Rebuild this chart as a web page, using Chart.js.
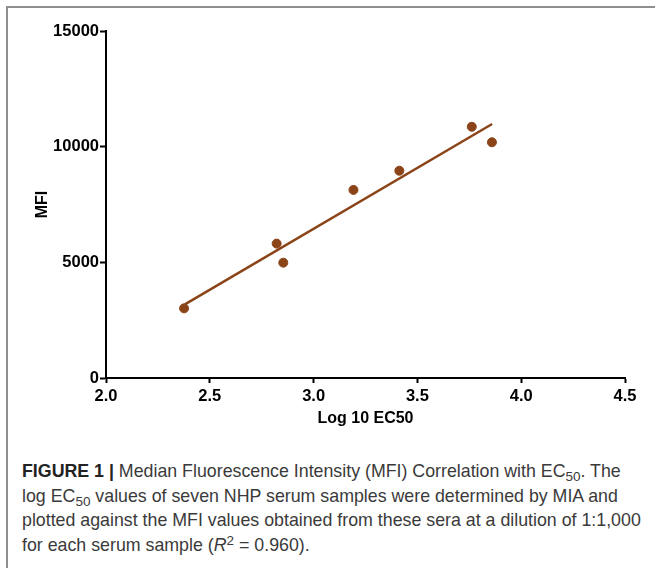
<!DOCTYPE html>
<html>
<head>
<meta charset="utf-8">
<script src="https://cdn.jsdelivr.net/npm/chart.js@4/dist/chart.umd.min.js"></script>
<style>
  html, body { margin: 0; padding: 0; background: #fff; }
  body { width: 655px; height: 568px; position: relative; overflow: hidden; }
  #frame { position: absolute; left: 6px; top: 6px; width: 660px; height: 580px;
           border-top: 2px solid #8e8e8e; border-left: 2px solid #8e8e8e; }
  #wrap { position: absolute; left: 0; top: 0; width: 655px; height: 440px; }
  #caption { position: absolute; left: 22px; top: 459px; width: 640px; white-space: nowrap;
             font-family: "Liberation Sans", Arial, sans-serif; font-size: 17.8px;
             line-height: 24.5px; color: #3a3a3a; }
  #caption b { color: #222; }
  sub { font-size: 13.5px; line-height: 0; vertical-align: -4px; }
  sup { font-size: 13.5px; line-height: 0; vertical-align: 6px; }
</style>
</head>
<body>
<div id="frame"></div>
<div id="wrap"><canvas id="c"></canvas></div>
<div id="caption"><b>FIGURE 1 |</b> Median Fluorescence Intensity (MFI) Correlation with EC<sub>50</sub>. The<br>log EC<sub>50</sub> values of seven NHP serum samples were determined by MIA and<br>plotted against the MFI values obtained from these sera at a dilution of 1:1,000<br>for each serum sample (<i>R</i><sup>2</sup> = 0.960).</div>
<script>
const logEC50 = [2.376, 2.822, 2.854, 3.192, 3.413, 3.762, 3.859];
const mfi = [3010, 5810, 4985, 8130, 8960, 10860, 10190];
const fitX = [2.38, 3.86];
const fitY = [3180, 10980];
const xTicks = [2.0, 2.5, 3.0, 3.5, 4.0, 4.5];
const yTicks = [0, 5000, 10000, 15000];

const brown = '#8a4418';
const pts = logEC50.map((x, i) => ({ x: x, y: mfi[i] }));
const fit = fitX.map((x, i) => ({ x: x, y: fitY[i] }));
const tickFont = { family: '"Liberation Sans", Arial, sans-serif', size: 16.5, weight: 'bold' };
const titleFont = { family: '"Liberation Sans", Arial, sans-serif', size: 16, weight: 'bold' };

new Chart(document.getElementById('c'), {
  type: 'scatter',
  data: {
    datasets: [
      { type: 'line', data: fit, borderColor: brown, borderWidth: 2.5, pointRadius: 0, fill: false },
      { data: pts, backgroundColor: brown, borderColor: brown, pointRadius: 4.5, pointHoverRadius: 4.5 }
    ]
  },
  options: {
    responsive: true,
    maintainAspectRatio: false,
    animation: false,
    events: [],
    layout: { padding: { left: 29, right: 30, top: 31, bottom: 8 } },
    plugins: { legend: { display: false }, tooltip: { enabled: false } },
    scales: {
      x: {
        type: 'linear', min: 2.0, max: 4.5,
        afterBuildTicks: s => { s.ticks = xTicks.map(v => ({ value: v })); },
        afterFit: s => { s.height = 54; },
        grid: { display: true, drawOnChartArea: false, drawTicks: true, tickLength: 5, tickWidth: 2, tickColor: '#000' },
        border: { display: true, color: '#000', width: 2 },
        ticks: { color: '#000', font: tickFont, padding: 4, maxRotation: 0, callback: v => v.toFixed(1) },
        title: { display: true, text: 'Log 10 EC50', color: '#000', font: titleFont, padding: { top: 4, bottom: 4 } }
      },
      y: {
        type: 'linear', min: 0, max: 15000,
        afterBuildTicks: s => { s.ticks = yTicks.map(v => ({ value: v })); },
        afterFit: s => { s.width = 77; },
        grid: { display: true, drawOnChartArea: false, drawTicks: true, tickLength: 6, tickWidth: 2, tickColor: '#000' },
        border: { display: true, color: '#000', width: 2 },
        ticks: { color: '#000', font: tickFont, padding: 1, callback: v => String(v) },
        title: { display: true, text: 'MFI', color: '#000', font: titleFont, padding: { top: 4, bottom: 4 } }
      }
    }
  }
});
</script>
</body>
</html>
